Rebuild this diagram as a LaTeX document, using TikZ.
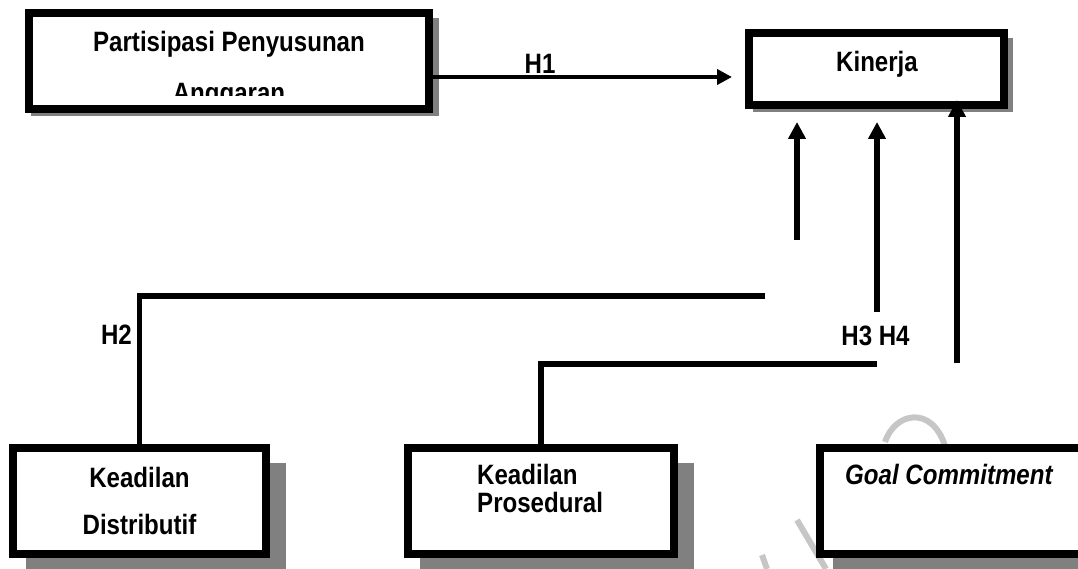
\documentclass[tikz,border=0pt]{standalone}
\usepackage{fontspec}
\setmainfont{Liberation Sans}[FakeStretch=0.86]
\usetikzlibrary{arrows.meta,shadows}

\begin{document}
\begin{tikzpicture}[x=1pt, y=-1pt,
    varbox/.style={draw, line width=8pt, fill=white, inner sep=0pt},
    smallshadow/.style={drop shadow={shadow xshift=6pt, shadow yshift=-6pt, shadow scale=1.02, fill=black!50, opacity=1}},
    bigshadow/.style={drop shadow={shadow xshift=16pt, shadow yshift=-16pt, shadow scale=1.03, fill=black!50, opacity=1}},
    vartext/.style={inner sep=0pt, font=\bfseries},
    link/.style={line width=5.5pt},
    uparrow/.style={line width=6pt, -{Triangle[width=17pt,length=17pt]}},
    hone/.style={line width=4pt, -{Triangle[width=15pt,length=15pt]}}]
    \useasboundingbox (0,0) rectangle (1078,569);

    % Watermark
    \draw[gray!45, line width=6pt] (885,442) .. controls (895,412) and (932,405) .. (945,446);
    \draw[gray!45, line width=6pt] (797,520) -- (826,569);
    \draw[gray!45, line width=6pt] (762,555) -- (767,569);

    % Partisipasi penyusunan anggaran
    \node[varbox, smallshadow, minimum width=400pt, minimum height=96pt] (PA) at (229,61) {};
    \begin{scope}
        \clip (25,0) rectangle (433,96);
        \node[vartext, align=center, font=\fontsize{28}{51}\selectfont\bfseries] (PAtext) at (229,70.3) {Partisipasi Penyusunan\\Anggaran};
    \end{scope}

    % Kinerja
    \node[varbox, smallshadow, minimum width=255pt, minimum height=72pt] (K) at (876.5,69) {};
    \node[vartext, anchor=base, font=\fontsize{28}{34}\selectfont\bfseries] (Ktext) at (877,72) {Kinerja};

    % Keadilan distributif
    \node[varbox, bigshadow, minimum width=253pt, minimum height=106pt] (KD) at (139.5,501) {};
    \node[vartext, align=center, font=\fontsize{28}{47}\selectfont\bfseries] (KDtext) at (139.5,501.3) {Keadilan\\Distributif};

    % Keadilan prosedural
    \node[varbox, bigshadow, minimum width=266pt, minimum height=106pt] (KP) at (541,501) {};
    \node[vartext, align=left, anchor=west, font=\fontsize{28}{28}\selectfont\bfseries] (KPtext) at (477,488.8) {Keadilan\\Prosedural};

    % Goal commitment
    \node[varbox, bigshadow, minimum width=266pt, minimum height=106pt] (GC) at (953,501) {};
    \node[vartext, anchor=base west, font=\fontsize{28}{34}\selectfont\bfseries\itshape] (GCtext) at (845,484) {Goal Commitment};

    % H1
    \draw[hone, shorten >=13pt] ([yshift=-16pt]PA.east) -- ([yshift=-16pt]PA.east -| K.west);
    \node[vartext, anchor=base, font=\fontsize{28}{34}\selectfont\bfseries] (H1) at (540,74) {H1};

    % H2
    \coordinate (h2end) at (765,296);
    \draw[link] (KD.north) |- (h2end);
    \node[vartext, anchor=base east, font=\fontsize{28}{34}\selectfont\bfseries] (H2) at (132,344) {H2};

    % H3 and H4
    \coordinate (h3end) at (877,364);
    \draw[link] (KP.north) |- (h3end);
    \node[vartext, anchor=base, font=\fontsize{28}{34}\selectfont\bfseries] (H34) at (875.5,345) {H3 H4};

    % Arrows into kinerja
    \coordinate (a1) at (797,240);
    \coordinate (a2) at (877,312);
    \coordinate (a3) at (957,363);
    \draw[uparrow, shorten >=13pt] (a1) -- (a1 |- K.south);
    \draw[uparrow, shorten >=13pt] (a2) -- (a2 |- K.south);
    \draw[uparrow, shorten >=-9pt] (a3) -- (a3 |- K.south);

\end{tikzpicture}
\end{document}
